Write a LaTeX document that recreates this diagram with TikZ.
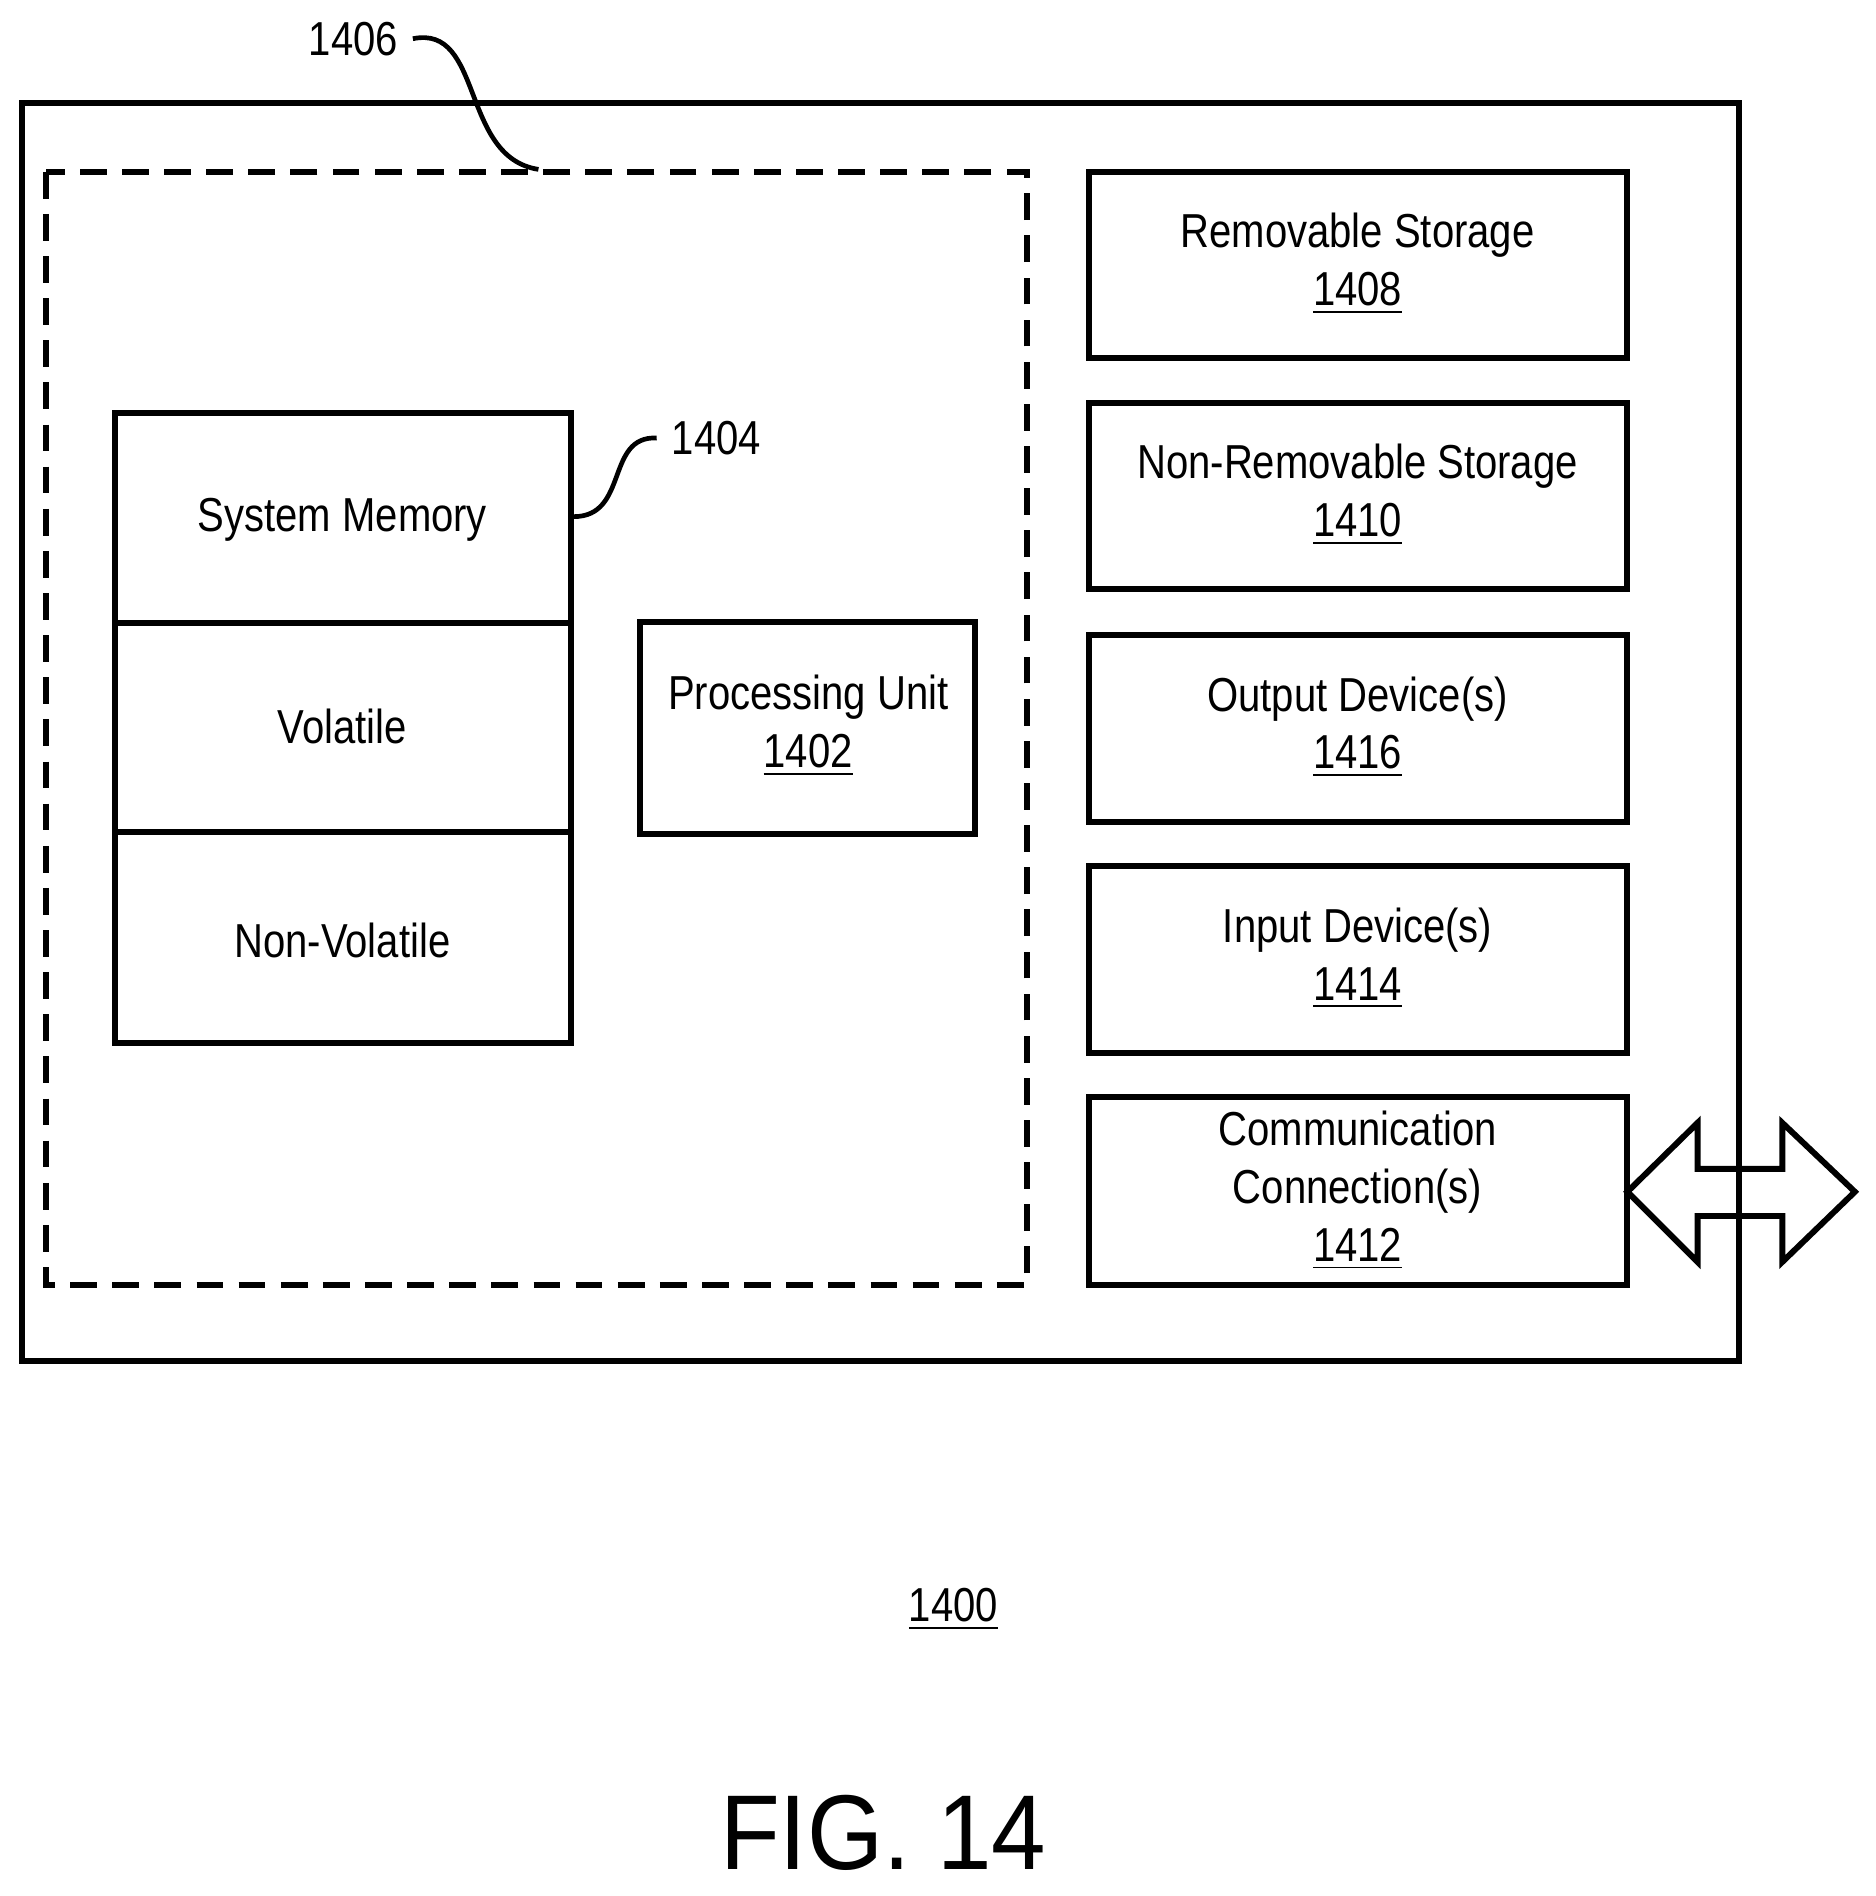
\documentclass[tikz,border=0pt]{standalone}
\usepackage{fontspec}
\setmainfont{Liberation Sans}[FakeStretch=0.84]
\newfontfamily\figfont{Liberation Sans}[FakeStretch=0.92]
\begin{document}
\begin{tikzpicture}[x=0.01cm,y=-0.01cm,
  lbl/.style={font=\fontsize{11.2}{13.6}\selectfont,align=center},
  lw/.style={line width=1.4pt},
  lead/.style={line width=1.1pt}]
\useasboundingbox (0,0) rectangle (1550,1567);
\draw[lw] (18,85) rectangle (1437,1125);
\draw[lw,dash pattern=on 6.3pt off 3.6pt] (38,142) rectangle (849,1062);
% memory stack
\draw[lw] (95,341) rectangle (472,515);
\draw[lw] (95,515) rectangle (472,688);
\draw[lw] (95,688) rectangle (472,862);
\node[lbl] (sm) at (283,430) {System Memory};
\node[lbl] (vol) at (283,600) {Volatile};
\node[lbl] (nv) at (283,777) {Non-Volatile};
\coordinate (smr) at (474,427);
\draw[lw] (529,514) rectangle (806,689);
\node[lbl] (pu) at (668,600) {Processing Unit\\\underline{1402}};
% right boxes
\foreach \t/\n/\l in {142/rs/{Removable Storage\\\underline{1408}},333/nrs/{Non-Removable Storage\\\underline{1410}},525/od/{Output Device(s)\\\underline{1416}},716/id/{Input Device(s)\\\underline{1414}}}{
  \draw[lw] (900,\t) rectangle (1345,\t+154);
  \node[lbl] (\n) at (1122,\t+76) {\l};
}
\draw[lw] (900,907) rectangle (1345,1062);
\node[lbl] (cc) at (1122,984) {Communication\\Connection(s)\\\underline{1412}};
% double arrow
\draw[lw,line join=miter] (1345,985) -- (1403,928) -- (1403,966) -- (1473,966) -- (1473,928) -- (1533,985) -- (1473,1043) -- (1473,1005) -- (1403,1005) -- (1403,1043) -- cycle;
% leaders
\node[lbl,anchor=center] (l1406) at (292,32) {1406};
\coordinate (dtop) at (445,140);
\draw[lead] (l1406.east) .. controls (400,20) and (380,130) .. (dtop);
\node[lbl] (l1404) at (592,362) {1404};
\draw[lead] (smr) .. controls (520,427) and (500,360) .. (l1404.west);
\node[lbl] (l1400) at (788,1330) {\underline{1400}};
\node[font=\figfont\fontsize{25}{30}\selectfont] (fig) at (730,1515) {FIG. 14};
\end{tikzpicture}
\end{document}
